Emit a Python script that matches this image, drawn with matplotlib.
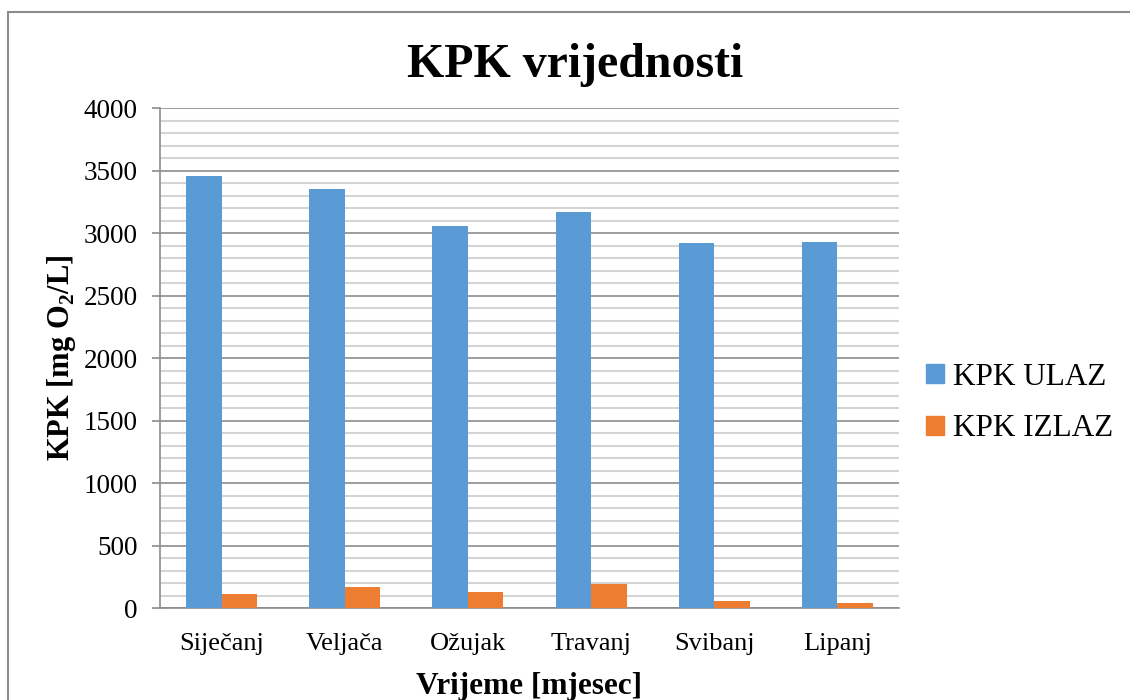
import matplotlib
matplotlib.use("Agg")
import matplotlib.pyplot as plt
import matplotlib.ticker as mticker
from matplotlib.lines import Line2D
from matplotlib.patches import Patch
import numpy as np

plt.rcParams['font.family'] = ['Liberation Serif', 'DejaVu Serif']
plt.rcParams['mathtext.fontset'] = 'custom'
plt.rcParams['mathtext.rm'] = 'Liberation Serif'
plt.rcParams['mathtext.bf'] = 'Liberation Serif:bold'

months = ["Siječanj", "Veljača", "Ožujak", "Travanj", "Svibanj", "Lipanj"]
kpk_ulaz = [3460, 3350, 3060, 3170, 2920, 2930]
kpk_izlaz = [110, 165, 125, 190, 60, 40]
series_names = ["KPK ULAZ", "KPK IZLAZ"]
colors = ["#5b9bd5", "#ed7d31"]

fig = plt.figure(figsize=(11.3, 7.0), dpi=100)
ax = fig.add_axes([0.1416, 0.1314, 0.6540, 0.7143])

x = np.arange(len(months))
w = 0.288
ax.bar(x - w / 2, kpk_ulaz, w, color=colors[0], zorder=3)
ax.bar(x + w / 2, kpk_izlaz, w, color=colors[1], zorder=3)

ax.set_xlim(-0.5, len(months) - 0.5)
ax.set_ylim(0, 4000)
ax.yaxis.set_major_locator(mticker.MultipleLocator(500))
ax.yaxis.set_minor_locator(mticker.MultipleLocator(100))
ax.grid(which='major', axis='y', color='#8c8c8c', lw=1.2, zorder=1)
ax.grid(which='minor', axis='y', color='#d4d4d4', lw=1.5, zorder=0)

ax.set_xticks(x)
ax.set_xticklabels(months)
ax.tick_params(axis='x', length=0, pad=18, labelsize=19)
ax.tick_params(axis='y', which='major', length=6, width=1.2, color='#8c8c8c',
               pad=10, labelsize=19.5)
ax.tick_params(axis='y', which='minor', length=0)

for side in ['top', 'right']:
    ax.spines[side].set_visible(False)
for side in ['left', 'bottom']:
    ax.spines[side].set_color('#8c8c8c')
    ax.spines[side].set_linewidth(1.2)

ax.set_title("KPK vrijednosti", fontsize=34.5, fontweight='bold', pad=22,
             x=0.5616)
ax.set_xlabel("Vrijeme [mjesec]", fontsize=22.5, fontweight='bold', labelpad=12)
ax.set_ylabel("KPK [mg O$_\\mathbf{2}$/L]", fontsize=22, fontweight='bold',
              labelpad=4)

handles = [Patch(color=c) for c in colors]
fig.legend(handles, series_names, loc='center left',
           bbox_to_anchor=(0.795, 0.424), frameon=False, fontsize=22.5,
           handlelength=0.55, handleheight=0.55, handletextpad=0.3,
           labelspacing=0.72)

# chart area border (only top and left visible in the crop)
fig.add_artist(Line2D([0.0071, 1.0], [0.983, 0.983], color='#8c8c8c', lw=1.5,
                      transform=fig.transFigure))
fig.add_artist(Line2D([0.0071, 0.0071], [0.0, 0.983], color='#8c8c8c', lw=1.5,
                      transform=fig.transFigure))

fig.savefig("out.png", dpi=100)
